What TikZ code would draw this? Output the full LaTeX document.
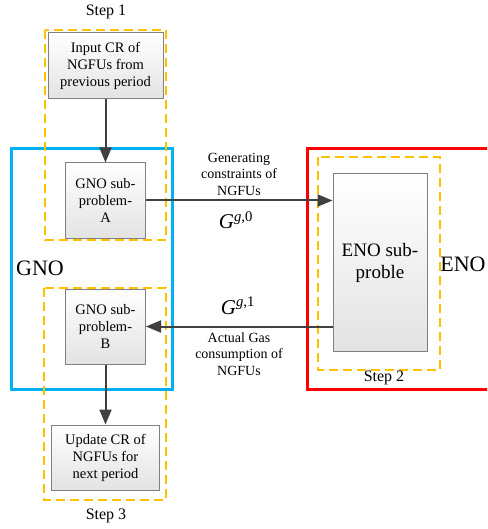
\documentclass[tikz,border=0pt]{standalone}
\usepackage{fontspec}
\setmainfont{Liberation Serif}
\usetikzlibrary{arrows.meta}

\definecolor{stepcol}{RGB}{255,192,0}
\definecolor{gnocol}{RGB}{0,176,240}
\definecolor{enocol}{RGB}{255,0,0}
\definecolor{flowcol}{RGB}{64,64,64}

\tikzset{
	box/.style={draw=gray, line width=1pt, top color=white, bottom color=gray!22, align=center, inner sep=2pt,
		font=\fontsize{14.5}{17}\selectfont},
	stepbox/.style={draw=stepcol, line width=1.8pt, dash pattern=on 9pt off 5pt},
	flow/.style={draw=flowcol, line width=2pt, -{Triangle[length=15pt,width=12pt]}},
	lbl/.style={align=center, font=\fontsize{14}{16.5}\selectfont},
	steplbl/.style={font=\fontsize{16}{18}\selectfont},
	sym/.style={font=\fontsize{21}{24}\selectfont},
	big/.style={font=\fontsize{22}{24}\selectfont}
}

\begin{document}
\begin{tikzpicture}[x=10pt, y=-10pt]

	\clip (0,0) rectangle (48.7,52.9);

	% GNO and ENO frames
	\draw [gnocol, line width=3pt] (1.1,14.9) rectangle (17.25,38.9);
	\draw [enocol, line width=3pt] (30.7,14.9) rectangle (49.5,38.9);
	\node [big] (gno) at (4.0,26.8) {GNO};
	\node [big] (eno) at (46.3,26.4) {ENO};

	% steps
	\draw [stepbox] (4.5,3.0) rectangle (16.6,24.0);
	\draw [stepbox] (31.8,15.7) rectangle (44.0,37.0);
	\draw [stepbox] (4.4,28.8) rectangle (16.6,50.0);
	\node [steplbl] (s1) at (10.6,1.2) {Step 1};
	\node [steplbl] (s2) at (38.4,37.8) {Step 2};
	\node [steplbl] (s3) at (10.6,51.6) {Step 3};

	\node [box, minimum width=115pt, minimum height=66pt] (input) at (10.55,6.6) {Input CR of\\NGFUs from\\previous period};
	\node [box, minimum width=80pt, minimum height=75pt] (gnoa) at (10.55,20.05) {GNO sub-\\problem-\\A};
	\node [box, minimum width=80pt, minimum height=75pt] (gnob) at (10.55,32.65) {GNO sub-\\problem-\\B};
	\node [box, minimum width=108pt, minimum height=65pt] (update) at (10.55,45.75) {Update CR of\\NGFUs for\\next period};
	\node [box, minimum width=94pt, minimum height=177pt, font=\fontsize{19}{22}\selectfont] (enosub) at (38.0,26.25) {ENO sub-\\proble};

	\draw [flow] (input) -- (gnoa);
	\draw [flow] (gnob) -- (update);
	\draw [flow] (gnoa.east) -- (gnoa.east -| enosub.west);
	\draw [flow] (gnob.east -| enosub.west) -- (gnob.east);

	\node [lbl] (gen) at (23.9,17.4) {Generating\\constraints of\\NGFUs};
	\node [sym] (g0) at (23.6,22.0) {\textit{G}\textsuperscript{\textit{g},0}};
	\node [sym] (g1) at (23.8,30.6) {\textit{G}\textsuperscript{\textit{g},1}};
	\node [lbl] (act) at (23.9,35.4) {Actual Gas\\consumption of\\NGFUs};

\end{tikzpicture}
\end{document}
